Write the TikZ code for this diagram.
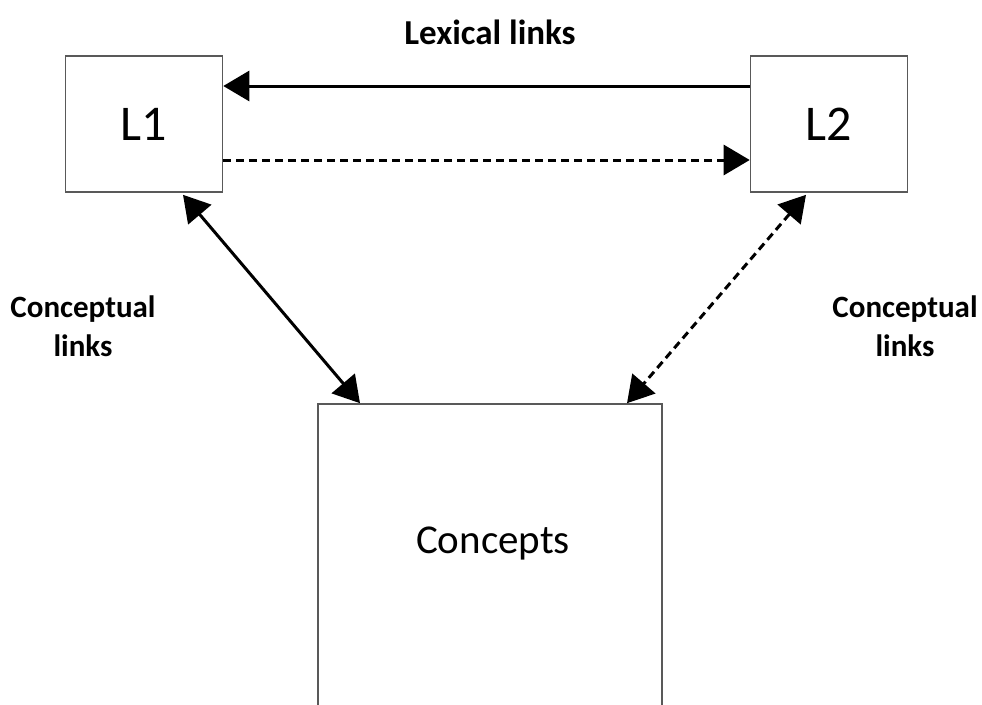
\documentclass[tikz,border=0pt]{standalone}
\usepackage{fontspec}
\setmainfont{Carlito}
\usetikzlibrary{arrows.meta}
\tikzset{myTip/.tip={Triangle[length=26pt, width=30pt]}}

\begin{document}
\begin{tikzpicture}[x=1pt, y=-1pt, inner sep=0pt]
            \useasboundingbox (0,0) rectangle (982,704);

            \tikzstyle{myBox}=[draw=black!65, line width=1.6pt, fill=white];
            \tikzstyle{myLink}=[line width=3pt, black];
            \tikzstyle{myDash}=[myLink, dash pattern=on 8pt off 5pt];
            \tikzstyle{myLabel}=[font=\fontsize{31}{39}\selectfont\bfseries, align=center];

            \node[myBox, minimum width=157pt, minimum height=136pt, font=\fontsize{50}{60}\selectfont] (L1) at (144,124) {L1};
            \node[myBox, minimum width=157pt, minimum height=136pt, font=\fontsize{50}{60}\selectfont] (L2) at (829,124) {L2};
            \node[myBox, minimum width=344pt, minimum height=310pt] (concepts) at (490,559) {};
            \node[font=\fontsize{41}{50}\selectfont] (conceptsText) at (493,543) {Concepts};

            \draw[myLink, -{myTip}] ([yshift=38pt]L2.west) -- ([yshift=38pt]L1.east);
            \draw[myDash, -{myTip}] ([yshift=-36pt]L1.east) -- ([yshift=-36pt]L2.west);
            \draw[myLink, {myTip}-{myTip}] ([xshift=39pt, yshift=-2pt]L1.south) -- ([xshift=-130pt]concepts.north);
            \draw[myDash, {myTip}-{myTip}] ([xshift=-23pt, yshift=-2pt]L2.south) -- ([xshift=137pt]concepts.north);

            \node[myLabel, font=\fontsize{35}{42}\selectfont\bfseries] (lexical) at (490,32) {Lexical links};
            \node[myLabel] (conceptualL) at (83,326) {Conceptual\\links};
            \node[myLabel] (conceptualR) at (905,326) {Conceptual\\links};
         \end{tikzpicture}
\end{document}
